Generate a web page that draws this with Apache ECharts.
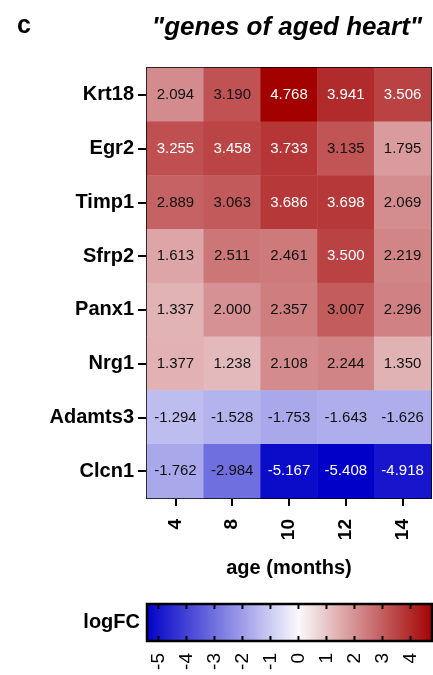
<!DOCTYPE html>
<html>
<head>
<meta charset="utf-8">
<script src="https://cdn.jsdelivr.net/npm/echarts@6/dist/echarts.min.js"></script>
<style>
  html, body { margin: 0; padding: 0; background: #fff; }
  #chart { width: 433px; height: 675px; }
</style>
</head>
<body>
<div id="chart"></div>
<script>
// Age points (months) and genes, top row first
const ages = ['4', '8', '10', '12', '14'];
const genes = ['Krt18', 'Egr2', 'Timp1', 'Sfrp2', 'Panx1', 'Nrg1', 'Adamts3', 'Clcn1'];

// logFC per gene across the age points
const krt18   = [2.094, 3.190, 4.768, 3.941, 3.506];
const egr2    = [3.255, 3.458, 3.733, 3.135, 1.795];
const timp1   = [2.889, 3.063, 3.686, 3.698, 2.069];
const sfrp2   = [1.613, 2.511, 2.461, 3.500, 2.219];
const panx1   = [1.337, 2.000, 2.357, 3.007, 2.296];
const nrg1    = [1.377, 1.238, 2.108, 2.244, 1.350];
const adamts3 = [-1.294, -1.528, -1.753, -1.643, -1.626];
const clcn1   = [-1.762, -2.984, -5.167, -5.408, -4.918];

// Colour bar tick labels
const scaleTicks = [-5, -4, -3, -2, -1, 0, 1, 2, 3, 4];

const rows = [krt18, egr2, timp1, sfrp2, panx1, nrg1, adamts3, clcn1];
const cells = [];
rows.forEach((vals, r) => vals.forEach((v, c) => cells.push([c, r, v])));
const all = cells.map(d => d[2]);
const vMin = Math.min(...all);
const vMax = Math.max(...all);

// Diverging scale: blue at the minimum, white at zero, red at the maximum
const LOW = [0, 0, 200], MID = [250, 249, 252], HIGH = [163, 0, 0];
function mix(a, b, t) {
  return 'rgb(' + a.map((x, i) => Math.round(x + (b[i] - x) * t)).join(',') + ')';
}
function colorFor(v) {
  return v < 0 ? mix(MID, LOW, v / vMin) : mix(MID, HIGH, v / vMax);
}
const STEPS = 96;
const scaleColors = [];
for (let i = 0; i <= STEPS; i++) scaleColors.push(colorFor(vMin + (vMax - vMin) * i / STEPS));
const zeroPos = -vMin / (vMax - vMin);

const FONT = 'Liberation Sans, Arial, sans-serif';

const chart = echarts.init(document.getElementById('chart'), null, { renderer: 'canvas' });

chart.setOption({
  backgroundColor: '#fff',
  animation: false,
  textStyle: { fontFamily: FONT },
  title: [
    { text: 'c', left: 12, top: 9, textStyle: { fontSize: 25, fontWeight: 'bold', color: '#000', fontFamily: FONT } },
    { text: '"genes of aged heart"', left: 282, top: 10, textAlign: 'center',
      textStyle: { fontSize: 26, fontWeight: 'bold', fontStyle: 'italic', color: '#000', fontFamily: FONT } }
  ],
  grid: [
    { left: 147, top: 68, width: 284, height: 430, show: true, borderColor: '#000', borderWidth: 2, backgroundColor: 'transparent' },
    { left: 147, top: 604, width: 285, height: 37, show: false }
  ],
  visualMap: {
    show: false, type: 'continuous', seriesIndex: 0, dimension: 2,
    min: vMin, max: vMax, inRange: { color: scaleColors }
  },
  xAxis: [
    {
      type: 'category', data: ages, gridIndex: 0, position: 'bottom',
      name: 'age (months)', nameLocation: 'middle', nameGap: 60,
      nameTextStyle: { fontSize: 20, fontWeight: 'bold', color: '#000', fontFamily: FONT },
      axisLine: { show: true, lineStyle: { color: '#000', width: 2 } },
      axisTick: { show: true, alignWithLabel: true, length: 8, lineStyle: { color: '#000', width: 2 } },
      axisLabel: { rotate: 90, margin: 21, fontSize: 19, fontWeight: 'bold', color: '#000', fontFamily: FONT },
      splitLine: { show: false }
    },
    {
      type: 'value', gridIndex: 1, min: vMin, max: vMax, position: 'bottom',
      axisLine: { show: false },
      axisTick: { show: false },
      axisLabel: { rotate: 90, margin: 12, fontSize: 19, color: '#000', fontFamily: FONT, customValues: scaleTicks },
      splitLine: { show: false }
    }
  ],
  yAxis: [
    {
      type: 'category', data: genes, inverse: true, gridIndex: 0,
      axisLine: { show: true, lineStyle: { color: '#000', width: 2 } },
      axisTick: { show: true, alignWithLabel: true, length: 9, lineStyle: { color: '#000', width: 2 } },
      axisLabel: { margin: 13, fontSize: 20, fontWeight: 'bold', color: '#000', fontFamily: FONT },
      splitLine: { show: false }
    },
    {
      type: 'value', gridIndex: 1, min: 0, max: 1,
      name: 'logFC', nameLocation: 'middle', nameRotate: 0, nameGap: 7,
      nameTextStyle: { fontSize: 20, fontWeight: 'bold', color: '#000', fontFamily: FONT, align: 'right', verticalAlign: 'middle' },
      axisLine: { show: false }, axisTick: { show: false }, axisLabel: { show: false }, splitLine: { show: false }
    }
  ],
  series: [
    {
      type: 'heatmap', xAxisIndex: 0, yAxisIndex: 0,
      data: cells.map(d => ({
        value: d,
        // white text on the darkest cells
        label: { color: (d[2] >= 3.2 || d[2] <= -4) ? '#fff' : '#111' }
      })),
      itemStyle: { borderWidth: 0 },
      label: {
        show: true, fontSize: 15, fontFamily: FONT,
        formatter: p => p.value[2].toFixed(3)
      },
      z: 1
    },
    {
      // colour scale bar with inward ticks on both edges
      type: 'custom', xAxisIndex: 1, yAxisIndex: 1,
      data: [[vMin, vMax]],
      renderItem: (params, api) => {
        const p0 = api.coord([api.value(0), 1]);
        const p1 = api.coord([api.value(1), 0]);
        const children = [{
          type: 'rect',
          shape: { x: p0[0], y: p0[1], width: p1[0] - p0[0], height: p1[1] - p0[1] },
          style: {
            fill: new echarts.graphic.LinearGradient(0, 0, 1, 0, [
              { offset: 0, color: colorFor(vMin) },
              { offset: zeroPos, color: colorFor(0) },
              { offset: 1, color: colorFor(vMax) }
            ]),
            stroke: '#000', lineWidth: 2.5
          }
        }];
        scaleTicks.forEach(t => {
          const x = api.coord([t, 0])[0];
          children.push({ type: 'line', shape: { x1: x, y1: p0[1], x2: x, y2: p0[1] + 5 }, style: { stroke: '#000', lineWidth: 2 } });
          children.push({ type: 'line', shape: { x1: x, y1: p1[1], x2: x, y2: p1[1] - 5 }, style: { stroke: '#000', lineWidth: 2 } });
        });
        return { type: 'group', children };
      },
      silent: true, z: 2
    }
  ]
});
</script>
</body>
</html>
